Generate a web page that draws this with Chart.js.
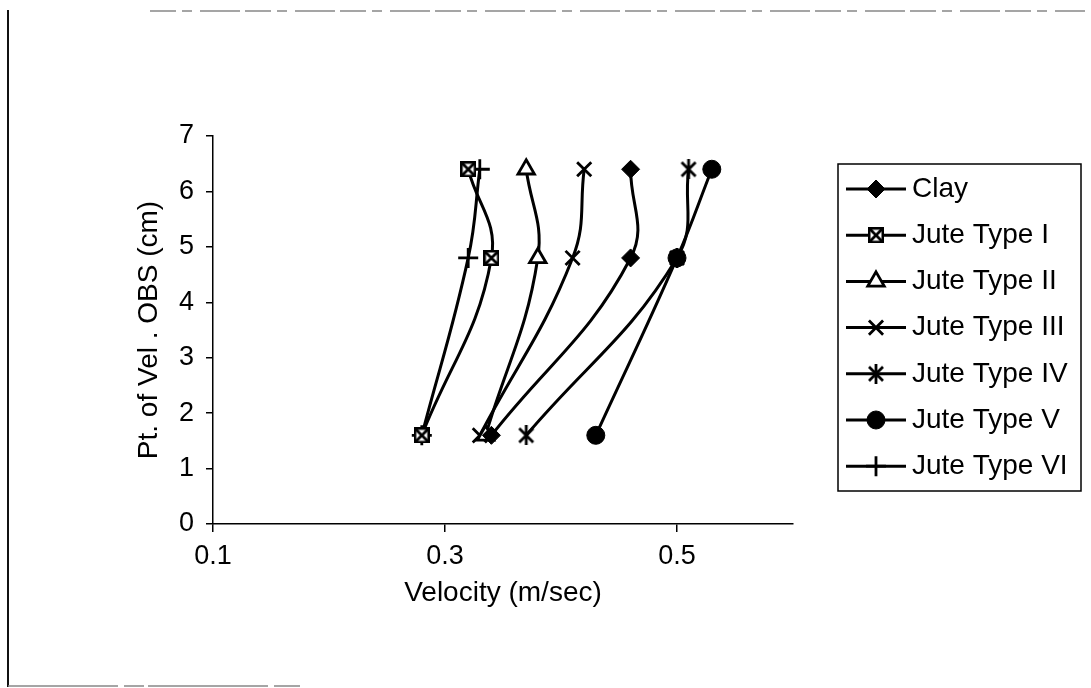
<!DOCTYPE html>
<html>
<head>
<meta charset="utf-8">
<script src="https://cdn.jsdelivr.net/npm/chart.js@4.4.1/dist/chart.umd.min.js"></script>
<style>
  html, body { margin: 0; padding: 0; background: #fff; }
  #wrap { width: 1091px; height: 688px; position: relative; }
</style>
</head>
<body>
<div id="wrap"><canvas id="c" width="1091" height="688"></canvas></div>
<script>
// Observation depths (cm) and velocities (m/sec) per bed material
const depth = [6.4, 4.8, 1.6];
const clay = [0.46, 0.46, 0.34];
const juteI = [0.32, 0.34, 0.28];
const juteII = [0.37, 0.38, 0.335];
const juteIII = [0.42, 0.41, 0.33];
const juteIV = [0.51, 0.50, 0.37];
const juteV = [0.53, 0.50, 0.43];
const juteVI = [0.33, 0.32, 0.28];
const seriesNames = ['Clay', 'Jute Type I', 'Jute Type II', 'Jute Type III', 'Jute Type IV', 'Jute Type V', 'Jute Type VI'];
const seriesValues = [clay, juteI, juteII, juteIII, juteIV, juteV, juteVI];
const xTicks = [0.1, 0.3, 0.5];
const yTicks = [0, 1, 2, 3, 4, 5, 6, 7];

const FONT = "'Liberation Sans', Arial, sans-serif";

function makeMarker(size, draw) {
  const c = document.createElement('canvas');
  c.width = size; c.height = size;
  draw(c.getContext('2d'), size);
  return c;
}
// boxed square with crossed interior
const squareMark = makeMarker(16, (g, s) => {
  g.fillStyle = '#000'; g.fillRect(0, 0, s, s);
  g.fillStyle = '#fff'; g.fillRect(2.5, 2.5, s - 5, s - 5);
  g.strokeStyle = '#000'; g.lineWidth = 2.8;
  g.beginPath(); g.moveTo(2, 2); g.lineTo(s - 2, s - 2); g.moveTo(s - 2, 2); g.lineTo(2, s - 2); g.stroke();
});
// six-spoke asterisk
const asteriskMark = makeMarker(20, (g, s) => {
  g.strokeStyle = '#000'; g.lineWidth = 2.8; g.lineCap = 'butt';
  g.beginPath();
  g.moveTo(s / 2, 0); g.lineTo(s / 2, s);
  g.moveTo(3, 3); g.lineTo(s - 3, s - 3);
  g.moveTo(s - 3, 3); g.lineTo(3, s - 3);
  g.stroke();
});

const markerStyles = [
  { pointStyle: 'rectRot', pointRadius: 9, pointBackgroundColor: '#000', pointBorderWidth: 1 },
  { pointStyle: squareMark, pointRadius: 8, pointBackgroundColor: '#000', pointBorderWidth: 0 },
  { pointStyle: 'triangle', pointRadius: 9.5, pointBackgroundColor: '#fff', pointBorderWidth: 2.8 },
  { pointStyle: 'crossRot', pointRadius: 10, pointBackgroundColor: '#000', pointBorderWidth: 2.8 },
  { pointStyle: asteriskMark, pointRadius: 10, pointBackgroundColor: '#000', pointBorderWidth: 0 },
  { pointStyle: 'circle', pointRadius: 9, pointBackgroundColor: '#000', pointBorderWidth: 1 },
  { pointStyle: 'cross', pointRadius: 10, pointBackgroundColor: '#000', pointBorderWidth: 2.8 }
];

const datasets = seriesNames.map((name, i) => Object.assign({
  label: name,
  data: seriesValues[i].map((v, k) => ({ x: v, y: depth[k] })),
  showLine: true,
  borderColor: '#000',
  borderWidth: 3,
  tension: 0.42,
  pointBorderColor: '#000',
  pointHoverRadius: 9
}, markerStyles[i]));

// page frame
const framePlugin = {
  id: 'frame',
  beforeDraw(chart) {
    const ctx = chart.ctx;
    ctx.save();
    ctx.fillStyle = '#fff';
    ctx.fillRect(0, 0, chart.width, chart.height);
    ctx.strokeStyle = '#111';
    ctx.lineWidth = 2;
    ctx.beginPath(); ctx.moveTo(8, 10); ctx.lineTo(8, 687); ctx.stroke();
    ctx.strokeStyle = '#888';
    ctx.lineWidth = 1.5;
    ctx.setLineDash([26, 6, 10, 8, 40, 5]);
    ctx.beginPath(); ctx.moveTo(150, 11); ctx.lineTo(1085, 11); ctx.stroke();
    ctx.setLineDash([110, 6, 20, 4, 120, 6]);
    ctx.beginPath(); ctx.moveTo(8, 686); ctx.lineTo(300, 686); ctx.stroke();
    ctx.restore();
  }
};

// boxed legend with line-and-marker samples
const legendPlugin = {
  id: 'boxLegend',
  afterDraw(chart) {
    const ctx = chart.ctx;
    const box = { left: 838, top: 164, right: 1081, bottom: 491 };
    const firstRow = 189, rowGap = 46.2, lineFrom = 846, lineTo = 906, textX = 912;
    ctx.save();
    ctx.strokeStyle = '#000';
    ctx.lineWidth = 1.5;
    ctx.strokeRect(box.left, box.top, box.right - box.left, box.bottom - box.top);
    ctx.font = '28px ' + FONT;
    ctx.textBaseline = 'middle';
    ctx.textAlign = 'left';
    chart.data.datasets.forEach((ds, i) => {
      const y = firstRow + i * rowGap;
      ctx.strokeStyle = '#000';
      ctx.lineWidth = 3;
      ctx.beginPath(); ctx.moveTo(lineFrom, y); ctx.lineTo(lineTo, y); ctx.stroke();
      ctx.fillStyle = ds.pointBackgroundColor;
      ctx.strokeStyle = '#000';
      ctx.lineWidth = ds.pointBorderWidth;
      Chart.helpers.drawPoint(ctx, {
        pointStyle: ds.pointStyle, radius: ds.pointRadius,
        borderWidth: ds.pointBorderWidth, rotation: 0
      }, (lineFrom + lineTo) / 2, y);
      ctx.fillStyle = '#000';
      ctx.fillText(ds.label, textX, y);
    });
    ctx.restore();
  }
};

new Chart(document.getElementById('c'), {
  type: 'scatter',
  data: { datasets },
  options: {
    responsive: false,
    animation: false,
    devicePixelRatio: 1,
    layout: { padding: { left: 0, right: 298, top: 136, bottom: 0 } },
    plugins: { legend: { display: false }, tooltip: { enabled: false } },
    scales: {
      x: {
        type: 'linear',
        min: 0.1,
        max: 0.6,
        afterFit: s => { s.height = 164; },
        afterBuildTicks: s => { s.ticks = xTicks.map(v => ({ value: v })); },
        grid: { display: true, drawOnChartArea: false, drawTicks: true, tickLength: 8, color: '#000', lineWidth: 1.5 },
        border: { display: true, color: '#000', width: 1.5 },
        ticks: { color: '#000', padding: 8, font: { family: FONT, size: 27 }, maxRotation: 0,
          callback: v => v.toFixed(1) },
        title: { display: true, text: 'Velocity (m/sec)', color: '#000',
          font: { family: FONT, size: 28 }, padding: { top: 0, bottom: 78 } }
      },
      y: {
        type: 'linear',
        min: 0,
        max: 7,
        afterFit: s => { s.width = 213; },
        afterBuildTicks: s => { s.ticks = yTicks.map(v => ({ value: v })); },
        grid: { display: true, drawOnChartArea: false, drawTicks: true, tickLength: 7, color: '#000', lineWidth: 1.5 },
        border: { display: true, color: '#000', width: 1.5 },
        ticks: { color: '#000', padding: 12, font: { family: FONT, size: 27 } },
        title: { display: true, text: 'Pt. of Vel . OBS (cm)', color: '#000',
          font: { family: FONT, size: 28 }, padding: { top: 132, bottom: 0 } }
      }
    }
  },
  plugins: [framePlugin, legendPlugin]
});
</script>
</body>
</html>
